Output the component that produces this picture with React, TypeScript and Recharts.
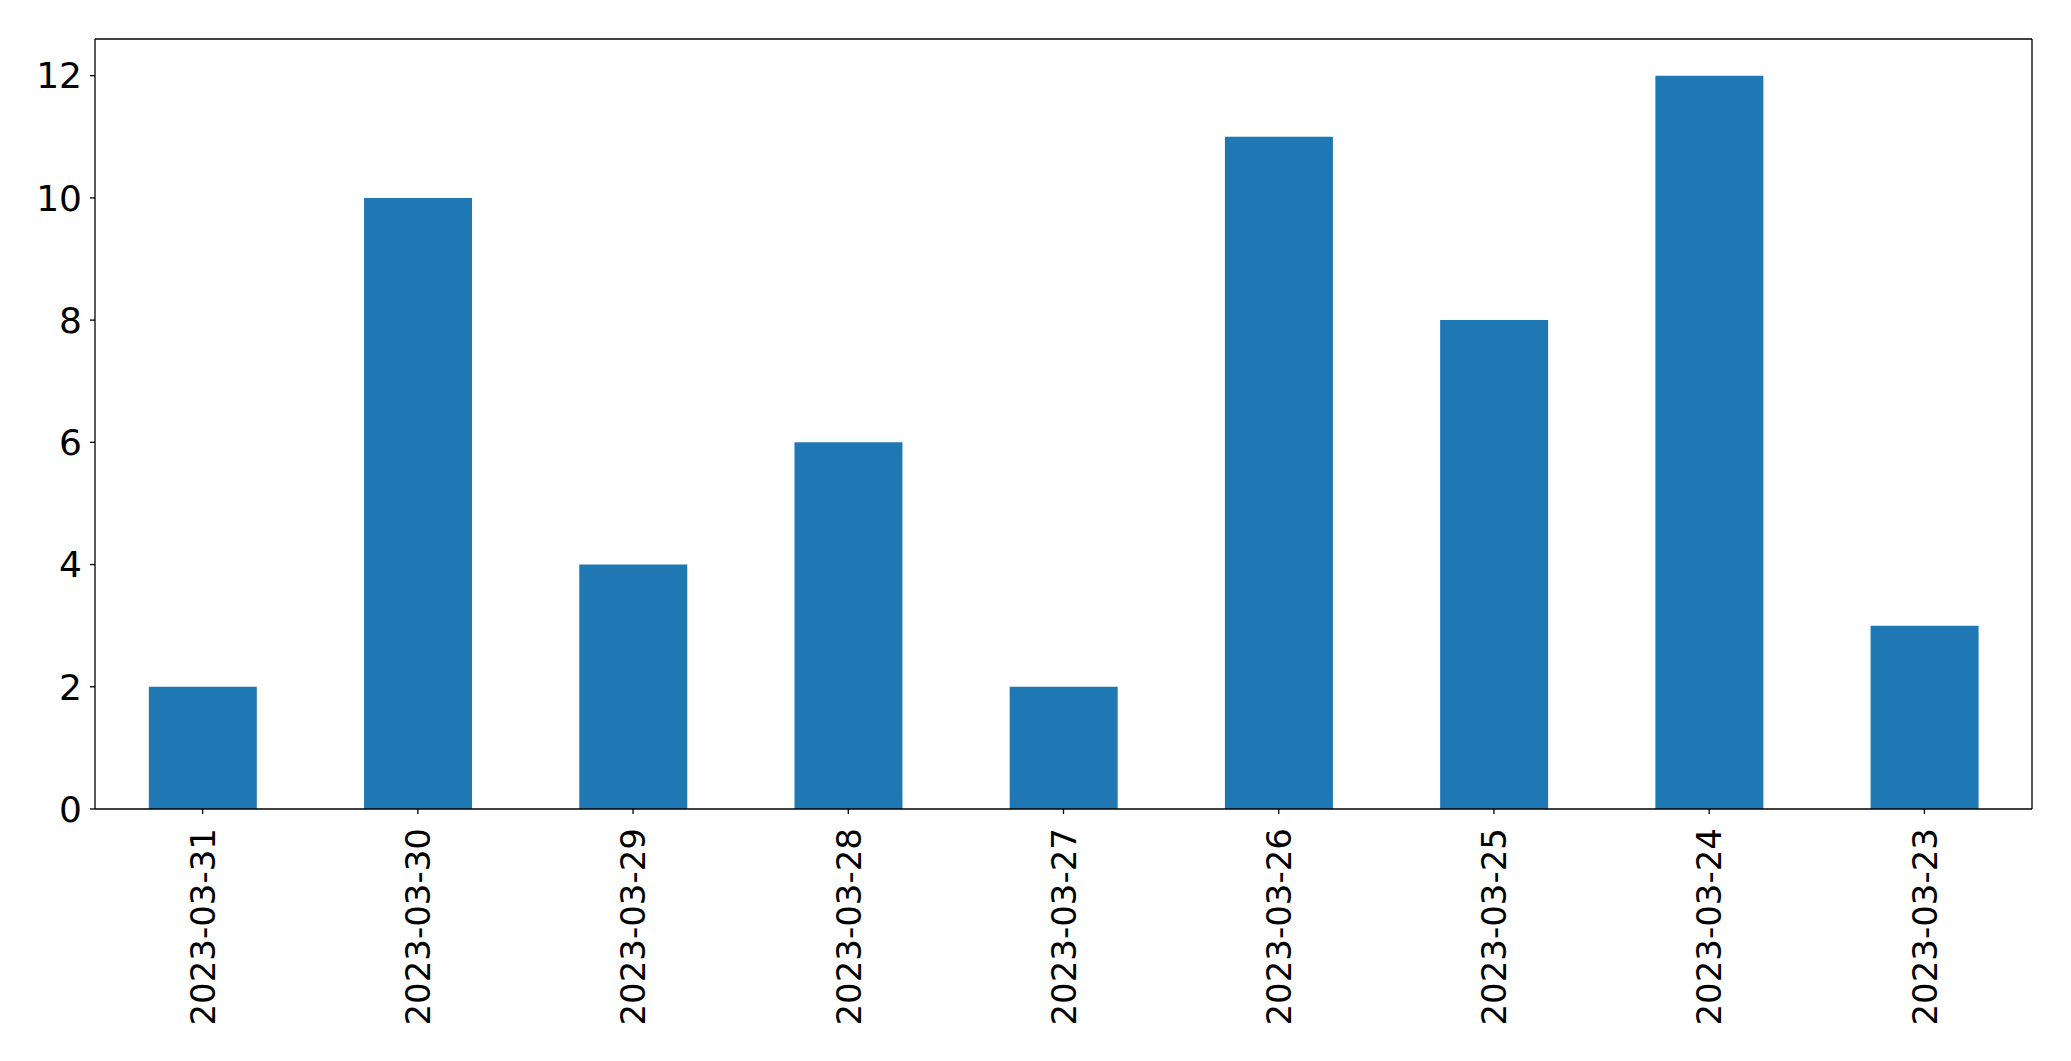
import { Bar, BarChart, ReferenceLine, XAxis, YAxis } from "recharts";

const dates = [
  "2023-03-31",
  "2023-03-30",
  "2023-03-29",
  "2023-03-28",
  "2023-03-27",
  "2023-03-26",
  "2023-03-25",
  "2023-03-24",
  "2023-03-23",
];

const counts = [2, 10, 4, 6, 2, 11, 8, 12, 3];

const yTicks = [0, 2, 4, 6, 8, 10, 12];
const yMax = 12.6;

const data = dates.map((date, i) => ({
  date,
  count: counts[i],
}));

const FONT = "'DejaVu Sans', sans-serif";
const frame = { stroke: "#000", strokeWidth: 1.3 };

function RotatedTick(props: any) {
  const { x, y, payload } = props;
  return (
    <text
      x={0}
      y={0}
      dy="0.36em"
      textAnchor="end"
      fontFamily={FONT}
      fontSize={34}
      fill="#000"
      transform={`translate(${x},${y + 12}) rotate(-90)`}
    >
      {payload.value}
    </text>
  );
}

function App() {
  return (
    <div
      style={{
        position: "absolute",
        left: 0,
        top: 0,
        width: 2071,
        height: 1061,
        background: "#fff",
      }}
    >
      <BarChart
        width={2071}
        height={1061}
        data={data}
        margin={{ top: 39, right: 39, left: 0, bottom: 0 }}
        barCategoryGap="25%"
      >
        <XAxis
          dataKey="date"
          height={252}
          interval={0}
          tick={<RotatedTick />}
          tickLine={frame}
          tickSize={5}
          axisLine={frame}
        />
        <YAxis
          width={95}
          domain={[0, yMax]}
          ticks={yTicks}
          interval={0}
          tickSize={5}
          tickMargin={8}
          tick={{ fontFamily: FONT, fontSize: 36, fill: "#000" }}
          tickLine={frame}
          axisLine={frame}
        />
        <Bar dataKey="count" fill="#1f77b4" isAnimationActive={false} />
        <ReferenceLine y={yMax} {...frame} />
        <ReferenceLine x={dates[dates.length - 1]} position="end" {...frame} />
      </BarChart>
    </div>
  );
}

export default App;
